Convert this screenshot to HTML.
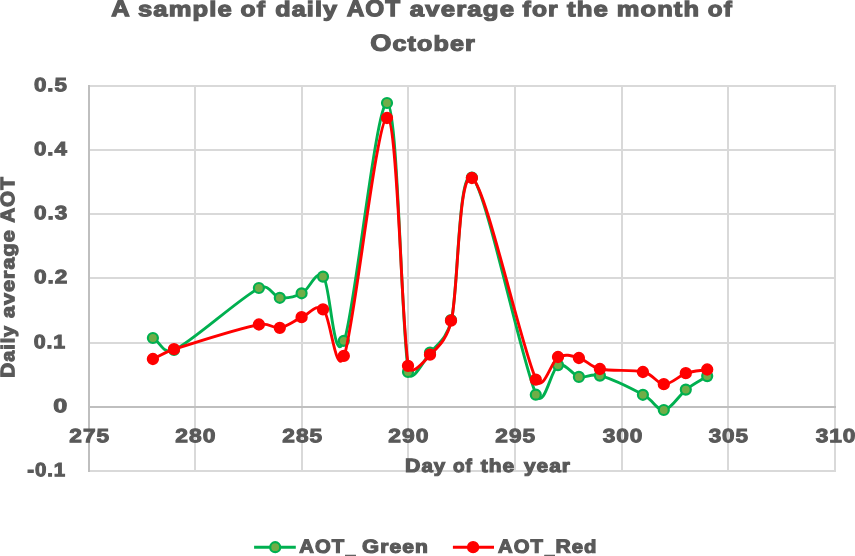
<!DOCTYPE html>
<html lang="en"><head><meta charset="utf-8"><title>A sample of daily AOT average for the month of October</title>
<style>
html,body{margin:0;padding:0;background:#fff;overflow:hidden}
svg{display:block}
text{white-space:pre}
</style></head>
<body>
<svg width="855" height="556" viewBox="0 0 855 556">
<rect width="855" height="556" fill="#fff"/>
<g fill="#D9D9D9" shape-rendering="crispEdges"><rect x="88" y="85" width="748" height="2"/><rect x="88" y="149" width="748" height="2"/><rect x="88" y="213" width="748" height="2"/><rect x="88" y="277" width="748" height="2"/><rect x="88" y="342" width="748" height="2"/><rect x="88" y="470" width="748" height="2"/><rect x="194" y="85" width="2" height="387"/><rect x="301" y="85" width="2" height="387"/><rect x="407" y="85" width="2" height="387"/><rect x="514" y="85" width="2" height="387"/><rect x="621" y="85" width="2" height="387"/><rect x="727" y="85" width="2" height="387"/><rect x="834" y="85" width="2" height="387"/></g>
<g fill="#BFBFBF" shape-rendering="crispEdges"><rect x="88" y="85" width="2" height="387"/><rect x="88" y="406" width="748" height="2"/></g>
<path d="M153.30 338.00C160.33 342.00 163.42 355.18 174.40 350.00C192.07 341.67 241.67 296.70 259.30 288.00C269.65 282.89 273.08 296.92 280.20 297.80C287.32 298.68 294.80 296.83 302.00 293.30C309.20 289.77 316.37 268.68 323.40 276.60C330.43 284.52 333.53 369.73 344.20 340.80C354.87 311.87 376.70 97.82 387.40 103.00C398.10 108.18 401.23 330.32 408.40 371.90C410.89 386.35 423.23 361.15 430.40 352.50C437.57 343.85 446.90 338.82 451.40 320.00C458.38 290.83 458.17 165.05 472.30 177.50C486.43 189.95 521.85 363.43 536.20 394.70C543.92 411.51 551.22 368.07 558.40 365.10C565.58 362.13 572.32 375.15 579.30 376.90C586.28 378.65 590.17 372.77 600.30 375.60C610.97 378.58 632.65 389.07 643.30 394.80C653.95 400.53 657.05 410.87 664.20 410.00C671.35 409.13 678.97 395.25 686.20 389.60C693.43 383.95 700.47 380.60 707.60 376.10" fill="none" stroke="#00B050" stroke-width="2.9" stroke-linecap="round" stroke-linejoin="round"/><g fill="#70AD47" stroke="#00B050" stroke-width="2.2"><circle cx="152.90" cy="338.00" r="5.0"/><circle cx="174.00" cy="350.00" r="5.0"/><circle cx="258.90" cy="288.00" r="5.0"/><circle cx="279.80" cy="297.80" r="5.0"/><circle cx="301.60" cy="293.30" r="5.0"/><circle cx="323.00" cy="276.60" r="5.0"/><circle cx="343.80" cy="340.80" r="5.0"/><circle cx="387.00" cy="103.00" r="5.0"/><circle cx="408.00" cy="371.90" r="5.0"/><circle cx="430.00" cy="352.50" r="5.0"/><circle cx="451.00" cy="320.00" r="5.0"/><circle cx="471.90" cy="177.50" r="5.0"/><circle cx="535.80" cy="394.70" r="5.0"/><circle cx="558.00" cy="365.10" r="5.0"/><circle cx="578.90" cy="376.90" r="5.0"/><circle cx="599.90" cy="375.60" r="5.0"/><circle cx="642.90" cy="394.80" r="5.0"/><circle cx="663.80" cy="410.00" r="5.0"/><circle cx="685.80" cy="389.60" r="5.0"/><circle cx="707.20" cy="376.10" r="5.0"/></g><path d="M153.30 359.00C160.33 355.73 163.34 352.80 174.40 349.20C192.07 343.45 241.67 328.07 259.30 324.50C269.67 322.40 273.08 329.02 280.20 327.80C287.32 326.58 294.80 320.28 302.00 317.20C309.20 314.12 316.37 302.85 323.40 309.30C330.43 315.75 336.10 380.10 344.20 355.90C354.87 324.02 376.70 116.35 387.40 118.00C398.10 119.65 401.23 326.35 408.40 365.80C410.60 377.92 423.23 362.22 430.40 354.70C437.57 347.18 446.79 340.14 451.40 320.70C458.38 291.25 458.17 168.17 472.30 178.00C486.43 187.83 521.85 349.87 536.20 379.70C543.08 394.01 551.22 360.62 558.40 357.00C565.58 353.38 572.32 356.00 579.30 358.00C586.28 360.00 589.63 366.67 600.30 369.00C610.97 371.33 632.65 369.47 643.30 372.00C653.95 374.53 657.05 384.00 664.20 384.20C671.35 384.40 678.97 375.65 686.20 373.20C693.43 370.75 700.47 370.73 707.60 369.50" fill="none" stroke="#FF0000" stroke-width="2.9" stroke-linecap="round" stroke-linejoin="round"/><g fill="#FF0000" stroke="#FF0000" stroke-width="1.5"><circle cx="152.90" cy="359.00" r="5.4"/><circle cx="174.00" cy="349.20" r="5.4"/><circle cx="258.90" cy="324.50" r="5.4"/><circle cx="279.80" cy="327.80" r="5.4"/><circle cx="301.60" cy="317.20" r="5.4"/><circle cx="323.00" cy="309.30" r="5.4"/><circle cx="343.80" cy="355.90" r="5.4"/><circle cx="387.00" cy="118.00" r="5.4"/><circle cx="408.00" cy="365.80" r="5.4"/><circle cx="430.00" cy="354.70" r="5.4"/><circle cx="451.00" cy="320.70" r="5.4"/><circle cx="471.90" cy="178.00" r="5.4"/><circle cx="535.80" cy="379.70" r="5.4"/><circle cx="558.00" cy="357.00" r="5.4"/><circle cx="578.90" cy="358.00" r="5.4"/><circle cx="599.90" cy="369.00" r="5.4"/><circle cx="642.90" cy="372.00" r="5.4"/><circle cx="663.80" cy="384.20" r="5.4"/><circle cx="685.80" cy="373.20" r="5.4"/><circle cx="707.20" cy="369.50" r="5.4"/></g>
<line x1="254.1" x2="295.8" y1="547.2" y2="547.2" stroke="#00B050" stroke-width="2.9"/><circle cx="275.2" cy="547.2" r="5.0" fill="#70AD47" stroke="#00B050" stroke-width="2.2"/><line x1="452.9" x2="494.0" y1="547.2" y2="547.2" stroke="#FF0000" stroke-width="2.9"/><circle cx="473.1" cy="547.2" r="5.4" fill="#FF0000" stroke="#FF0000" stroke-width="1.5"/>
<g font-family="'Liberation Sans', Arial, sans-serif" font-weight="bold" text-rendering="geometricPrecision" fill="#595959" stroke="#595959" stroke-linejoin="miter" stroke-miterlimit="3"><text transform="translate(111.18 16.20) rotate(0.03) scale(1.1014 1)" font-size="23.2" stroke-width="1.2" letter-spacing="0.96">A</text>
<text transform="translate(138.00 16.20) rotate(0.03) scale(1.2051 1)" font-size="21.2" stroke-width="1.2" letter-spacing="0.96">sample</text>
<text transform="translate(240.61 16.20) rotate(0.03) scale(1.1602 1)" font-size="21.2" stroke-width="1.2" letter-spacing="0.96">of</text>
<text transform="translate(275.20 16.20) rotate(0.03) scale(1.1857 1)" font-size="21.2" stroke-width="1.2" letter-spacing="0.96">daily</text>
<text transform="translate(346.66 16.20) rotate(0.03) scale(1.0505 1)" font-size="23.2" stroke-width="1.2" letter-spacing="0.96">AOT</text>
<text transform="translate(409.80 16.20) rotate(0.03) scale(1.2134 1)" font-size="21.2" stroke-width="1.2" letter-spacing="0.96">average</text>
<text transform="translate(522.59 16.20) rotate(0.03) scale(1.1624 1)" font-size="21.2" stroke-width="1.2" letter-spacing="0.96">for</text>
<text transform="translate(566.96 16.20) rotate(0.03) scale(1.2147 1)" font-size="21.2" stroke-width="1.2" letter-spacing="0.96">the</text>
<text transform="translate(616.70 16.20) rotate(0.03) scale(1.2007 1)" font-size="21.2" stroke-width="1.2" letter-spacing="0.96">month</text>
<text transform="translate(707.81 16.20) rotate(0.03) scale(1.1415 1)" font-size="21.2" stroke-width="1.2" letter-spacing="0.96">of</text>
<text transform="translate(370.16 50.70) rotate(0.03) scale(1.1725 1)" font-size="21.4" stroke-width="1.2" letter-spacing="0.96"><tspan font-size="23.2">O</tspan>ctober</text>
<text transform="translate(34.01 91.30) rotate(0.03) scale(1.1591 1)" font-size="19.3" stroke-width="1.0" letter-spacing="0.8">0.5</text>
<text transform="translate(34.01 155.30) rotate(0.03) scale(1.1544 1)" font-size="19.3" stroke-width="1.0" letter-spacing="0.8">0.4</text>
<text transform="translate(34.01 219.30) rotate(0.03) scale(1.1679 1)" font-size="19.3" stroke-width="1.0" letter-spacing="0.8">0.3</text>
<text transform="translate(34.01 283.30) rotate(0.03) scale(1.1731 1)" font-size="19.3" stroke-width="1.0" letter-spacing="0.8">0.2</text>
<text transform="translate(33.72 348.30) rotate(0.03) scale(1.1093 1)" font-size="19.3" stroke-width="1.0" letter-spacing="0.8">0.1</text>
<text transform="translate(53.27 412.30) rotate(0.03) scale(1.3037 1)" font-size="19.3" stroke-width="1.0" letter-spacing="0.8">0</text>
<text transform="translate(27.33 476.30) rotate(0.03) scale(1.0629 1)" font-size="19.3" stroke-width="1.0" letter-spacing="0.8">-0.1</text>
<text transform="translate(69.35 442.20) rotate(0.03) scale(1.1747 1)" font-size="19.3" stroke-width="1.0" letter-spacing="0.8">275</text>
<text transform="translate(175.35 442.20) rotate(0.03) scale(1.1835 1)" font-size="19.3" stroke-width="1.0" letter-spacing="0.8">280</text>
<text transform="translate(282.35 442.20) rotate(0.03) scale(1.1747 1)" font-size="19.3" stroke-width="1.0" letter-spacing="0.8">285</text>
<text transform="translate(388.35 442.20) rotate(0.03) scale(1.1835 1)" font-size="19.3" stroke-width="1.0" letter-spacing="0.8">290</text>
<text transform="translate(495.35 442.20) rotate(0.03) scale(1.1747 1)" font-size="19.3" stroke-width="1.0" letter-spacing="0.8">295</text>
<text transform="translate(602.65 442.20) rotate(0.03) scale(1.1747 1)" font-size="19.3" stroke-width="1.0" letter-spacing="0.8">300</text>
<text transform="translate(708.65 442.20) rotate(0.03) scale(1.1661 1)" font-size="19.3" stroke-width="1.0" letter-spacing="0.8">305</text>
<text transform="translate(815.65 442.20) rotate(0.03) scale(1.1747 1)" font-size="19.3" stroke-width="1.0" letter-spacing="0.8">310</text>
<text transform="translate(404.97 471.90) rotate(0.03) scale(1.1111 1)" font-size="18.4" stroke-width="1.12" letter-spacing="0.896"><tspan font-size="19.2">D</tspan>ay</text>
<text transform="translate(453.07 471.90) rotate(0.03) scale(1.0347 1)" font-size="18.4" stroke-width="1.12" letter-spacing="0.896">of</text>
<text transform="translate(480.83 471.90) rotate(0.03) scale(1.1361 1)" font-size="18.4" stroke-width="1.12" letter-spacing="0.896">the</text>
<text transform="translate(524.01 471.90) rotate(0.03) scale(1.1325 1)" font-size="18.4" stroke-width="1.12" letter-spacing="0.896">year</text>
<text transform="translate(14.30 377.80) rotate(-90.03) scale(1.0701 1)" font-size="18.5" stroke-width="1.12" letter-spacing="0.896"><tspan font-size="19.5">D</tspan>aily</text>
<text transform="translate(14.30 318.00) rotate(-90.03) scale(1.1641 1)" font-size="18.5" stroke-width="1.12" letter-spacing="0.896">average</text>
<text transform="translate(14.30 222.83) rotate(-90.03) scale(1.0621 1)" font-size="19.5" stroke-width="1.12" letter-spacing="0.896">AOT</text>
<text transform="translate(299.27 552.70) rotate(0.03) scale(1.0682 1)" font-size="19.0" stroke-width="1.12" letter-spacing="0.896">AOT</text>
<text transform="translate(345.59 553.60) rotate(0.03) scale(0.9888 1)" font-size="18.2" stroke-width="0.6" letter-spacing="0.48">_</text>
<text transform="translate(362.11 552.70) rotate(0.03) scale(1.1554 1)" font-size="18.2" stroke-width="1.12" letter-spacing="0.896"><tspan font-size="19.0">G</tspan>reen</text>
<text transform="translate(498.07 552.70) rotate(0.03) scale(1.0682 1)" font-size="19.0" stroke-width="1.12" letter-spacing="0.896">AOT</text>
<text transform="translate(544.69 553.60) rotate(0.03) scale(0.9708 1)" font-size="18.2" stroke-width="0.6" letter-spacing="0.48">_</text>
<text transform="translate(555.47 552.70) rotate(0.03) scale(1.1110 1)" font-size="18.2" stroke-width="1.12" letter-spacing="0.896"><tspan font-size="19.0">R</tspan>ed</text></g>
</svg>
</body></html>
